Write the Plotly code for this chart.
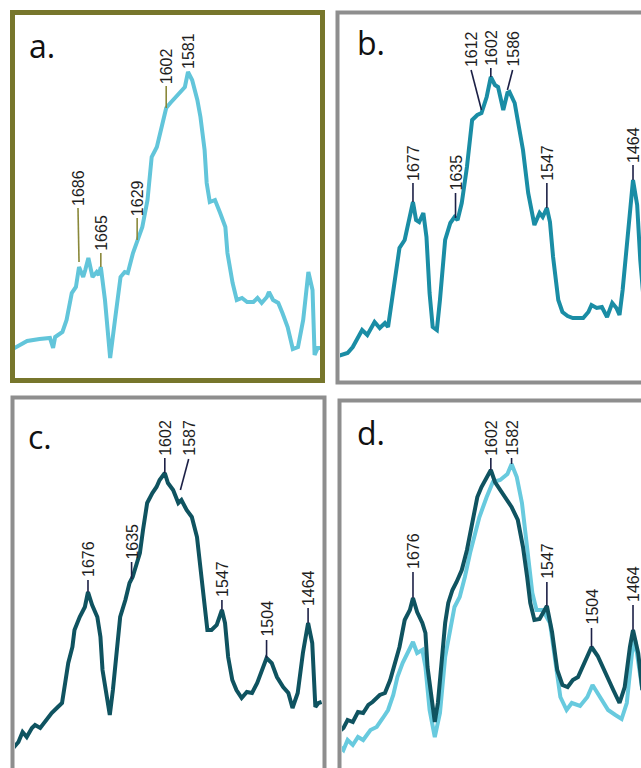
import numpy as np
import plotly.graph_objects as go

W, H = 641, 768

# ---------------- data (wavenumber, cm-1  /  absorbance, a.u.) ----------------
wn_a = [1750, 1743, 1736, 1724, 1714, 1711, 1709, 1702, 1698, 1693, 1689, 1686, 1682, 1680, 1677,
        1673, 1669, 1667, 1665, 1661, 1656, 1651, 1646, 1642, 1639, 1634, 1630, 1625, 1620, 1616,
        1611, 1606, 1602, 1598, 1593, 1587, 1584, 1581, 1577, 1572, 1569, 1565, 1563, 1560, 1555,
        1550, 1545, 1543, 1538, 1534, 1529, 1524, 1518, 1514, 1510, 1505, 1503, 1499, 1494, 1490,
        1485, 1480, 1475, 1470, 1465, 1461, 1459, 1456, 1452]
abs_a = [30, 34, 38, 40, 41, 31, 42, 47, 59, 86, 92, 112, 102, 109, 121,
         102, 107, 104, 112, 79, 21, 62, 102, 107, 106, 126, 139, 152, 179, 222,
         232, 252, 271, 276, 282, 289, 292, 307, 299, 279, 262, 229, 196, 177, 179,
         166, 152, 126, 96, 79, 81, 77, 77, 81, 76, 82, 87, 79, 76, 66,
         52, 30, 32, 59, 107, 89, 24, 31, 31]

wn_b = [1749, 1740, 1735, 1726, 1721, 1714, 1709, 1704, 1701, 1697, 1694, 1690, 1685, 1681, 1677,
        1674, 1671, 1667, 1664, 1661, 1658, 1654, 1651, 1646, 1641, 1637, 1634, 1630, 1625, 1620,
        1615, 1611, 1606, 1602, 1598, 1595, 1590, 1586, 1584, 1579, 1574, 1571, 1566, 1562, 1560,
        1555, 1552, 1548, 1545, 1542, 1537, 1533, 1528, 1523, 1513, 1508, 1505, 1500, 1495, 1490,
        1485, 1481, 1478, 1475, 1470, 1465, 1461, 1458, 1453]
abs_b = [25, 28, 34, 51, 46, 59, 53, 58, 54, 83, 108, 133, 141, 161, 179,
         161, 159, 168, 144, 88, 54, 51, 81, 141, 158, 164, 161, 178, 214, 261,
         266, 268, 284, 304, 296, 294, 271, 288, 289, 278, 251, 231, 188, 164, 156,
         168, 164, 173, 159, 124, 81, 69, 65, 63, 63, 69, 76, 73, 74, 64,
         78, 73, 66, 91, 143, 201, 176, 121, 60]

wn_c = [1748, 1743, 1739, 1735, 1730, 1727, 1722, 1716, 1711, 1706, 1701, 1698, 1695, 1691, 1689,
        1684, 1679, 1676, 1672, 1667, 1664, 1662, 1658, 1655, 1652, 1648, 1645, 1640, 1636, 1633,
        1629, 1626, 1623, 1619, 1614, 1610, 1607, 1602, 1599, 1594, 1589, 1586, 1581, 1576, 1571,
        1568, 1565, 1561, 1557, 1552, 1547, 1544, 1541, 1537, 1533, 1528, 1523, 1518, 1513, 1508,
        1504, 1499, 1494, 1488, 1483, 1479, 1474, 1469, 1464, 1460, 1457, 1454, 1451]
abs_c = [20, 26, 36, 31, 40, 43, 40, 48, 55, 60, 65, 85, 105, 121, 138,
         151, 161, 176, 163, 151, 131, 98, 71, 53, 78, 121, 151, 168, 185, 191,
         205, 215, 238, 265, 275, 281, 288, 295, 285, 278, 265, 268, 258, 251, 231,
         205, 178, 138, 138, 143, 158, 145, 111, 88, 78, 70, 76, 75, 85, 98,
         110, 105, 91, 81, 75, 60, 75, 115, 145, 125, 61, 65, 66]

wn_d_dark = [1749, 1744, 1740, 1735, 1730, 1725, 1720, 1716, 1709, 1704, 1699, 1694, 1690, 1685, 1680,
             1677, 1673, 1668, 1665, 1663, 1659, 1656, 1653, 1649, 1646, 1643, 1639, 1635, 1630, 1625,
             1620, 1615, 1611, 1606, 1602, 1598, 1595, 1588, 1582, 1576, 1571, 1567, 1564, 1560, 1555,
             1548, 1543, 1538, 1533, 1528, 1523, 1518, 1511, 1505, 1499, 1492, 1484, 1478, 1473, 1468,
             1465, 1460, 1456]
abs_d_dark = [36, 40, 48, 46, 56, 55, 63, 66, 73, 75, 88, 108, 121, 148, 158,
              170, 156, 145, 135, 101, 66, 46, 65, 111, 145, 165, 178, 186, 198, 218,
              245, 271, 281, 290, 298, 286, 281, 271, 261, 248, 221, 191, 165, 148, 149,
              162, 136, 98, 83, 81, 88, 91, 106, 121, 112, 95, 78, 65, 81, 121,
              138, 115, 78]

wn_d_light = [1749, 1744, 1740, 1735, 1730, 1725, 1718, 1712, 1706, 1701, 1696, 1692, 1687, 1682, 1677,
              1673, 1668, 1665, 1661, 1656, 1651, 1646, 1641, 1637, 1632, 1627, 1622, 1617, 1613, 1606,
              1600, 1593, 1586, 1582, 1577, 1572, 1567, 1562, 1558, 1552, 1545, 1540, 1535, 1529, 1524,
              1516, 1509, 1504, 1497, 1489, 1482, 1476, 1471, 1466, 1463, 1460, 1456]
abs_d_light = [23, 18, 28, 23, 31, 28, 38, 41, 50, 58, 73, 91, 105, 115, 126,
               115, 118, 101, 58, 31, 55, 111, 141, 161, 171, 191, 215, 235, 251, 271,
               286, 288, 294, 304, 291, 265, 221, 175, 158, 158, 145, 105, 71, 58, 65,
               62, 71, 83, 71, 58, 53, 49, 65, 115, 128, 108, 78]

# peak labels: text, wavenumber where the leader meets the trace, wavenumber of the text
peaks_a = ["1686", "1665", "1629", "1602", "1581"]
peak_pt_a = [1686, 1665, 1630, 1602, 1581]
peak_tx_a = [1687, 1665, 1630, 1602, 1581]

peaks_b = ["1677", "1635", "1612", "1602", "1586", "1547", "1464"]
peak_pt_b = [1677, 1636, 1611, 1602, 1586, 1548, 1465]
peak_tx_b = [1677, 1636, 1621, 1602, 1581, 1548, 1465]

peaks_c = ["1676", "1635", "1602", "1587", "1547", "1504", "1464"]
peak_pt_c = [1676, 1634, 1602, 1587, 1547, 1504, 1464]
peak_tx_c = [1676, 1634, 1602, 1579, 1547, 1504, 1464]

peaks_d = ["1676", "1602", "1582", "1547", "1504", "1464"]
peak_pt_d = [1677, 1602, 1582, 1548, 1505, 1465]
peak_tx_d = [1677, 1602, 1582, 1548, 1505, 1465]
peak_src_d = ["dark", "dark", "light", "dark", "dark", "dark"]

# ---------------- styles ----------------
OLIVE = "#77762c"
GRAY = "#8e8e8e"
C_A = "#62c5da"
C_B = "#1a8da5"
C_DARK = "#0f5360"
C_LIGHT = "#68cade"
LEAD_A = "#8a883a"
LEAD = "#1c2046"
TXT = "#1e1e1e"
LINE_W = 4

# leader (start px, end px) and text shift px for each label
lead_a = [(5, 59, 60), (0, 14, 15), (0, 22, 23), (0, 22, 23), (None, None, 2)]
lead_b = [(0, 19, 20), (0, 25, 26), (3, 43, 45), (0, 9, 10), (3, 23, 25), (0, 25, 26), (0, 15, 16)]
lead_c = [(0, 12, 14), (0, 17, 18), (0, 15, 16), (11, 42, 44), (0, 10, 12), (0, 18, 20), (0, 15, 16)]
lead_d = [(0, 26, 28), (0, 12, 13), (0, 6, 7), (0, 24, 26), (0, 19, 21), (0, 25, 27)]


def px(x):
    return x / W


def py(y):
    return 1 - y / H


panels = {
    # name: (x domain px, y domain px (top, bottom), x range, y range)
    "a": ((15, 320), (15, 378), [1747.7, 1453.8], [1, 364]),
    "b": ((340, 641), (15, 381), [1747.3, 1457.3], [0, 366]),
    "c": ((15, 322), (400, 768), [1746.3, 1450.6], [0, 368]),
    "d": ((342, 641), (403, 768), [1745.4, 1457.3], [0, 365]),
}
axis_ids = {"a": ("x", "y"), "b": ("x2", "y2"), "c": ("x3", "y3"), "d": ("x4", "y4")}

fig = go.Figure()

def add_line(name, xs, ys, color):
    xa, ya = axis_ids[name]
    fig.add_trace(go.Scatter(x=xs, y=ys, mode="lines", xaxis=xa, yaxis=ya,
                             line=dict(color=color, width=LINE_W), hoverinfo="skip",
                             showlegend=False))

add_line("a", wn_a, abs_a, C_A)
add_line("b", wn_b, abs_b, C_B)
add_line("c", wn_c, abs_c, C_DARK)
add_line("d", wn_d_light, abs_d_light, C_LIGHT)
add_line("d", wn_d_dark, abs_d_dark, C_DARK)

layout = dict(width=W, height=H, margin=dict(l=0, r=0, t=0, b=0),
              paper_bgcolor="white", plot_bgcolor="white", showlegend=False)

for name, (xd, yd, xr, yr) in panels.items():
    xa, ya = axis_ids[name]
    xkey = "xaxis" + xa[1:]
    ykey = "yaxis" + ya[1:]
    layout[xkey] = dict(domain=[px(xd[0]), px(xd[1])], range=xr, visible=False,
                        anchor=ya, fixedrange=True)
    layout[ykey] = dict(domain=[py(yd[1]), py(yd[0])], range=yr, visible=False,
                        anchor=xa, fixedrange=True)

fig.update_layout(**layout)


def interp(xs, ys, w):
    xs = np.asarray(xs, float)
    ys = np.asarray(ys, float)
    o = np.argsort(xs)
    return float(np.interp(w, xs[o], ys[o]))


def add_labels(name, texts, pts, txs, leads, sources, lead_color):
    xa, ya = axis_ids[name]
    for t, p, tx, (l0, l1, sh), src in zip(texts, pts, txs, leads, sources):
        xs, ys = src
        h = interp(xs, ys, p)
        if l0 is not None:
            fig.add_shape(type="line", xref=xa, yref=ya, ysizemode="pixel", yanchor=h,
                          x0=p, x1=tx, y0=l0, y1=l1,
                          line=dict(color=lead_color, width=1.6), layer="above")
        fig.add_annotation(x=tx, y=h, xref=xa, yref=ya, text=t, textangle=-90,
                           showarrow=False, xanchor="center", yanchor="bottom", yshift=sh,
                           borderpad=0,
                           font=dict(family="Liberation Sans, Arial", size=16, color=TXT))

add_labels("a", peaks_a, peak_pt_a, peak_tx_a, lead_a, [(wn_a, abs_a)] * 5, LEAD_A)
add_labels("b", peaks_b, peak_pt_b, peak_tx_b, lead_b, [(wn_b, abs_b)] * 7, LEAD)
add_labels("c", peaks_c, peak_pt_c, peak_tx_c, lead_c, [(wn_c, abs_c)] * 7, LEAD)
src_d = [(wn_d_dark, abs_d_dark) if s == "dark" else (wn_d_light, abs_d_light) for s in peak_src_d]
add_labels("d", peaks_d, peak_pt_d, peak_tx_d, lead_d, src_d, LEAD)

# panel borders
borders = [
    (12.5, 322.5, 12.5, 380.5, OLIVE, 5),
    (337.5, 660, 12.5, 382.5, GRAY, 4),
    (12.5, 324.5, 397.5, 790, GRAY, 4),
    (339.5, 660, 400.5, 790, GRAY, 4),
]
for x0, x1, y0, y1, col, lw in borders:
    fig.add_shape(type="rect", xref="paper", yref="paper",
                  x0=px(x0), x1=px(x1), y0=py(y1), y1=py(y0),
                  line=dict(color=col, width=lw), fillcolor="rgba(0,0,0,0)", layer="above")

# panel letters
letters = [("a.", 27, 45), ("b.", 355, 42), ("c.", 26, 436), ("d.", 355, 432)]
for t, x, y in letters:
    fig.add_annotation(x=px(x), y=py(y), xref="paper", yref="paper", text=t, showarrow=False,
                       xanchor="left", yanchor="middle",
                       font=dict(family="Open Sans", size=32, color="#111111"))

fig.write_html("out.html", config={"displayModeBar": False},
               post_script="document.body.style.margin='0';document.body.style.overflow='hidden';")
